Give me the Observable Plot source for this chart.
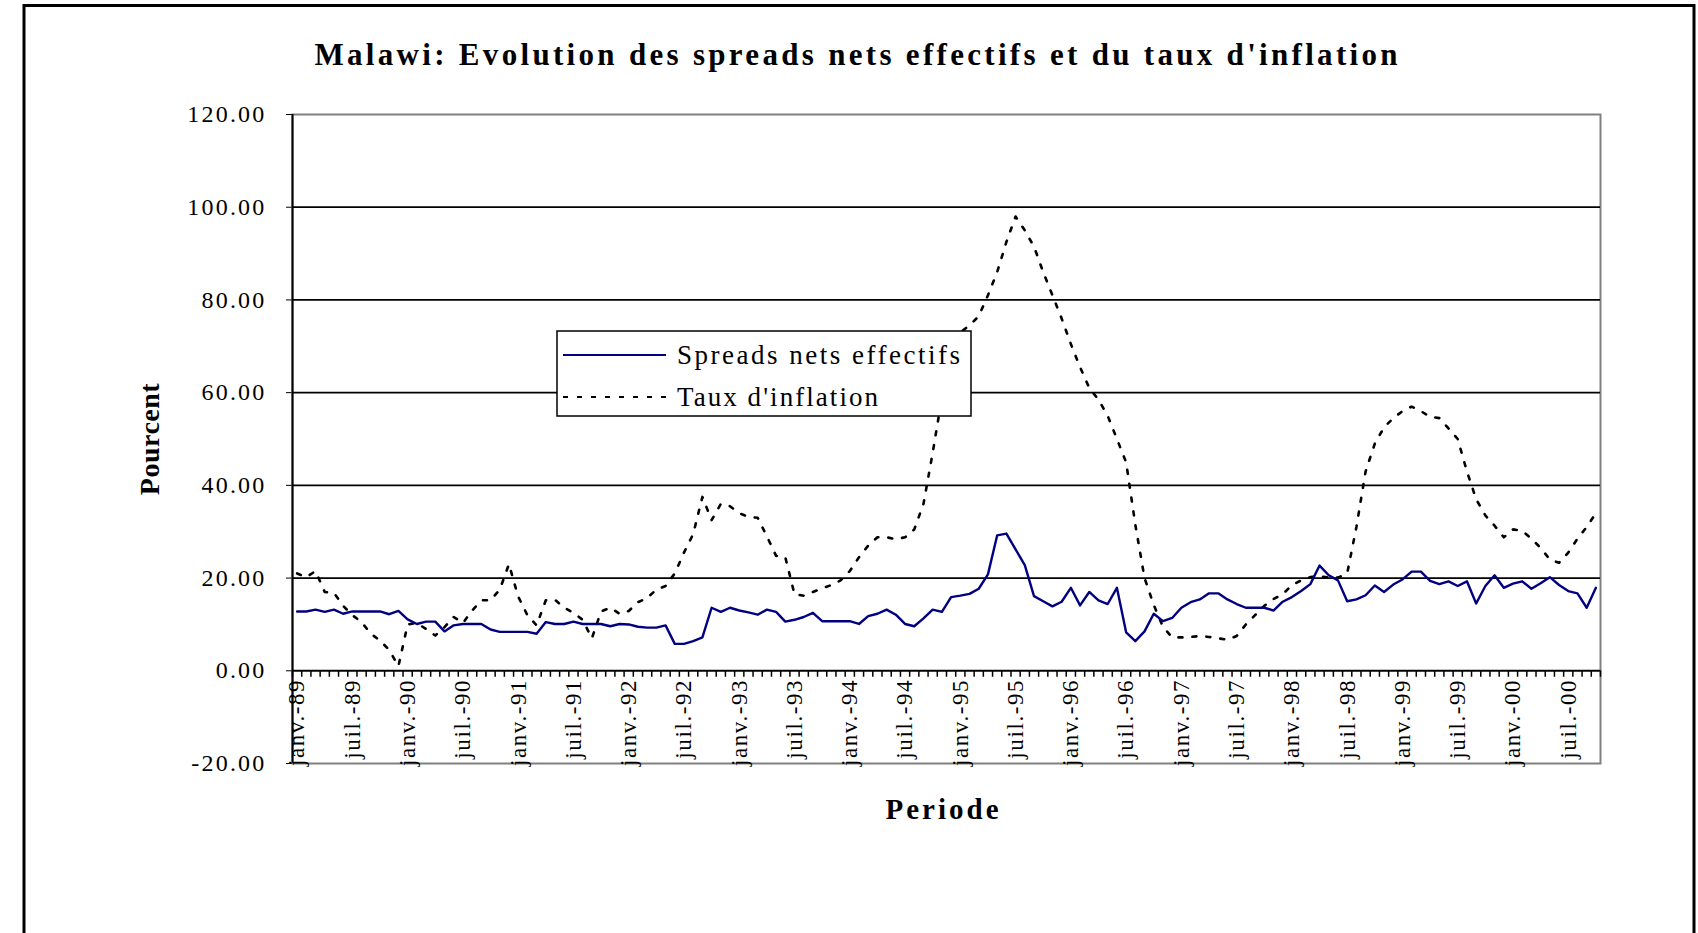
<!DOCTYPE html>
<html><head><meta charset="utf-8">
<script src="https://cdn.jsdelivr.net/npm/d3@7"></script>
<script src="https://cdn.jsdelivr.net/npm/@observablehq/plot@0.6"></script>
<style>
html,body{margin:0;padding:0;background:#fff;}
#chart{position:relative;width:1698px;height:933px;overflow:hidden;}
</style></head><body><div id="chart"></div>
<script>
// ---- data ----
const monthNames = ["janv.","févr.","mars","avr.","mai","juin","juil.","août","sept.","oct.","nov.","déc."];
const startYear = 1989;
const seriesNames = ["Spreads nets effectifs", "Taux d'inflation"];
const spread = [
 12.8,12.8,13.2,12.7,13.2,12.3,12.8,12.8,12.8,12.8,12.2,12.9,
 11.1,10.1,10.6,10.6,8.5,9.8,10.1,10.1,10.1,8.9,8.4,8.4,
 8.4,8.4,8.0,10.5,10.1,10.1,10.6,10.1,10.1,10.1,9.6,10.1,
 10.0,9.5,9.3,9.3,9.8,5.8,5.8,6.4,7.2,13.6,12.7,13.6,
 13.0,12.6,12.1,13.2,12.7,10.6,11.0,11.6,12.5,10.7,10.7,10.7,
 10.7,10.1,11.8,12.3,13.2,12.1,10.1,9.6,11.3,13.2,12.7,15.9,
 16.2,16.6,17.7,20.8,29.2,29.6,26.2,22.8,16.1,15.0,13.9,14.9,
 17.9,14.1,17.0,15.2,14.4,17.9,8.3,6.4,8.5,12.3,10.7,11.4,
 13.6,14.8,15.4,16.7,16.7,15.4,14.4,13.6,13.6,13.6,13.0,14.9,
 15.9,17.2,18.7,22.7,20.6,19.5,15.0,15.4,16.3,18.4,17.0,18.6,
 19.7,21.4,21.4,19.4,18.7,19.3,18.3,19.3,14.5,18.3,20.6,17.9,
 18.8,19.3,17.7,18.9,20.2,18.5,17.2,16.7,13.6,17.9
];
const inflation = [
 21.0,20.2,21.5,17.0,16.8,14.0,12.0,10.5,8.0,6.5,4.5,1.0,
 10.0,10.3,9.0,7.6,9.4,11.6,10.3,13.0,15.2,15.2,17.5,23.0,
 16.0,12.0,9.8,15.2,15.3,13.6,12.5,11.0,7.0,12.8,13.6,12.3,
 12.9,14.8,15.7,17.5,18.3,21.0,25.5,29.5,37.5,32.5,36.0,35.5,
 34.0,33.2,33.0,29.0,24.8,24.5,16.5,16.2,17.0,17.8,18.5,19.5,
 21.5,24.5,27.0,28.8,28.8,28.4,28.8,30.5,36.0,47.0,59.0,71.5,
 73.0,74.5,76.5,81.0,86.0,92.5,98.0,95.0,91.5,86.0,81.0,76.0,
 70.5,65.5,61.0,58.5,55.0,50.0,45.0,31.5,20.0,14.2,9.5,7.2,
 7.2,7.3,7.5,7.3,7.0,6.7,7.5,10.0,12.0,14.0,15.5,16.5,
 18.5,19.5,20.2,20.4,20.1,20.1,21.0,31.0,43.0,49.0,52.5,54.5,
 56.0,57.0,56.0,54.8,54.5,52.3,50.0,43.0,37.0,33.5,31.3,28.8,
 30.5,30.2,28.5,26.5,24.0,23.3,25.5,28.5,31.0,34.0
];
const yTicks = [-20, 0, 20, 40, 60, 80, 100, 120];
const gridValues = [20, 40, 60, 80, 100];
const titleText = "Malawi: Evolution des spreads nets effectifs et du taux d'inflation";
const yTitle = "Pourcent";
const xTitle = "Periode";

// ---- derived ----
const categories = d3.range(spread.length).map(i =>
  monthNames[i % 12] + "-" + String((startYear + Math.floor(i / 12)) % 100).padStart(2, "0"));
const labelIndex = d3.range(0, categories.length, 6);
const boundaries = d3.range(categories.length + 1).map(i => i - 0.5);
const rows = categories.map((c, i) => ({i, c, spread: spread[i], inflation: inflation[i]}));

const serif = "'Liberation Serif','Times New Roman',serif";

const chart = Plot.plot({
  width: 1698, height: 933,
  marginLeft: 292, marginRight: 98, marginTop: 114, marginBottom: 170,
  style: {fontFamily: serif, fontSize: "24px", color: "#000", background: "#fff", overflow: "visible"},
  x: {domain: [-0.5, categories.length - 0.5], axis: null},
  y: {domain: [-20, 120], ticks: yTicks, tickFormat: d => d.toFixed(2), tickSize: 6, tickPadding: 20, label: null},
  marks: [
    Plot.frame({stroke: "#808080", strokeWidth: 2}),
    Plot.ruleY(gridValues, {stroke: "#000", strokeWidth: 1.7}),
    Plot.ruleX([-0.5], {stroke: "#000", strokeWidth: 2}),
    Plot.ruleY([0], {stroke: "#000", strokeWidth: 2}),
    Plot.ruleX(boundaries, {y1: 0, y2: -1.4, stroke: "#000", strokeWidth: 1.5}),
    Plot.text(labelIndex, {x: d => d, y: 0, text: d => categories[d], rotate: -90, textAnchor: "end", dy: 8, fontSize: 23}),
    Plot.lineY(rows, {x: "i", y: "inflation", stroke: "#000", strokeWidth: 2.6, strokeDasharray: "4,10"}),
    Plot.lineY(rows, {x: "i", y: "spread", stroke: "#000080", strokeWidth: 2.4})
  ]
});
document.getElementById("chart").appendChild(chart);

const svg = d3.select(chart);
// stretch tick label spacing like the original rendering
svg.selectAll('g[aria-label^="y-axis"] text').attr("letter-spacing", 2.2).attr("font-size", 24);
svg.selectAll('g[aria-label="text"] text').attr("letter-spacing", 1.6);

// ---- annotations: border, title, axis titles, legend ----
svg.append("path").attr("d", "M24,940 V5.5 H1694 V940").attr("fill", "none").attr("stroke", "#000").attr("stroke-width", 3);
svg.append("text").attr("x", 856).attr("y", 65).attr("text-anchor", "middle")
  .attr("font-family", serif).attr("font-weight", "bold").attr("font-size", 31)
  .attr("textLength", 1083).attr("lengthAdjust", "spacing").text(titleText);
svg.append("text").attr("transform", "translate(159,439) rotate(-90)").attr("text-anchor", "middle")
  .attr("font-family", serif).attr("font-weight", "bold").attr("font-size", 28).attr("letter-spacing", 0.5).text(yTitle);
svg.append("text").attr("x", 942).attr("y", 819).attr("text-anchor", "middle")
  .attr("font-family", serif).attr("font-weight", "bold").attr("font-size", 29)
  .attr("textLength", 113).attr("lengthAdjust", "spacing").text(xTitle);

const lg = svg.append("g");
lg.append("rect").attr("x", 557).attr("y", 331).attr("width", 414).attr("height", 85)
  .attr("fill", "#fff").attr("stroke", "#000").attr("stroke-width", 1.5);
const entries = [
  {name: seriesNames[0], stroke: "#000080", dash: null, y: 355, len: 283},
  {name: seriesNames[1], stroke: "#000", dash: "5,9", y: 397, len: 201}
];
entries.forEach(e => {
  lg.append("line").attr("x1", 563).attr("x2", 666).attr("y1", e.y).attr("y2", e.y)
    .attr("stroke", e.stroke).attr("stroke-width", 2).attr("stroke-dasharray", e.dash);
  lg.append("text").attr("x", 677).attr("y", e.y + 9).attr("text-anchor", "start")
    .attr("font-family", serif).attr("font-size", 27)
    .attr("textLength", e.len).attr("lengthAdjust", "spacing").text(e.name);
});
</script></body></html>
